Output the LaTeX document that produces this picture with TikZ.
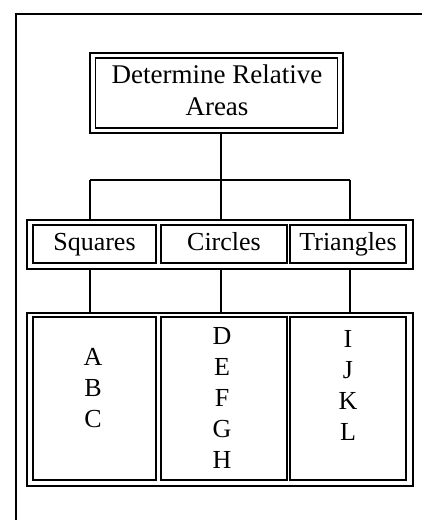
\documentclass[tikz,border=0pt]{standalone}
\usepackage{fontspec}
\setmainfont{Liberation Serif}
\tikzset{
  frameline/.style={line width=1.8pt},
  outerbox/.style={draw, line width=2.2pt, rectangle, inner sep=0pt},
  innerbox/.style={draw, line width=1.3pt, rectangle, inner sep=0pt},
  toplabel/.style={inner sep=0pt, anchor=base, font=\fontsize{27}{32}\selectfont},
  midlabel/.style={inner sep=0pt, anchor=base, font=\fontsize{26}{31}\selectfont},
  letter/.style={inner sep=0pt, anchor=base, font=\fontsize{26}{31}\selectfont},
  conn/.style={line width=1.3pt}
}
\begin{document}
\begin{tikzpicture}[x=1pt,y=-1pt]
\useasboundingbox (0,0) rectangle (422,523);
% outer frame
\coordinate (fl) at (16,520);
\coordinate (ftl) at (16,14);
\coordinate (ftr) at (422,14);
\draw[frameline] (fl) -- (ftl) -- (ftr);
% top box
\node[outerbox, minimum width=253pt, minimum height=80pt] (topout) at (216.5,93) {};
\node[innerbox, minimum width=242pt, minimum height=70pt] (top) at (216.5,93) {};
\node[toplabel] (t1) at (217,83) {Determine Relative};
\node[toplabel] (t2) at (217,115) {Areas};
% middle row
\node[outerbox, minimum width=386pt, minimum height=49pt] (midout) at (220,244.5) {};
\node[innerbox, minimum width=123pt, minimum height=38pt] (sq) at (94.5,244) {};
\node[innerbox, minimum width=126pt, minimum height=38pt] (ci) at (224,244) {};
\node[innerbox, minimum width=116pt, minimum height=38pt] (tr) at (348,244) {};
\node[midlabel] (sqt) at (94.5,250) {Squares};
\node[midlabel] (cit) at (224,250) {Circles};
\node[midlabel] (trt) at (348,250) {Triangles};
% bottom row
\node[outerbox, minimum width=386pt, minimum height=173pt] (botout) at (220,399.5) {};
\node[innerbox, minimum width=123pt, minimum height=163pt] (bsq) at (94.5,398.5) {};
\node[innerbox, minimum width=126pt, minimum height=163pt] (bci) at (224,398.5) {};
\node[innerbox, minimum width=116pt, minimum height=163pt] (btr) at (348,398.5) {};
\foreach \t [count=\i] in {A,B,C}
  \node[letter] (l\t) at (93,{365+31*(\i-1)}) {\t};
\foreach \t [count=\i] in {D,E,F,G,H}
  \node[letter] (l\t) at (222,{344+31*(\i-1)}) {\t};
\foreach \t [count=\i] in {I,J,K,L}
  \node[letter] (l\t) at (348,{347+31*(\i-1)}) {\t};
% connectors
\coordinate (jl) at (90,180);
\coordinate (jm) at (221,180);
\coordinate (jr) at (350,180);
\draw[conn] (jm |- topout.south) -- (jm);
\draw[conn] (jl) -- (jr);
\draw[conn] (jl) -- (jl |- midout.north);
\draw[conn] (jm) -- (jm |- midout.north);
\draw[conn] (jr) -- (jr |- midout.north);
\draw[conn] (jl |- midout.south) -- (jl |- botout.north);
\draw[conn] (jm |- midout.south) -- (jm |- botout.north);
\draw[conn] (jr |- midout.south) -- (jr |- botout.north);
\end{tikzpicture}
\end{document}
